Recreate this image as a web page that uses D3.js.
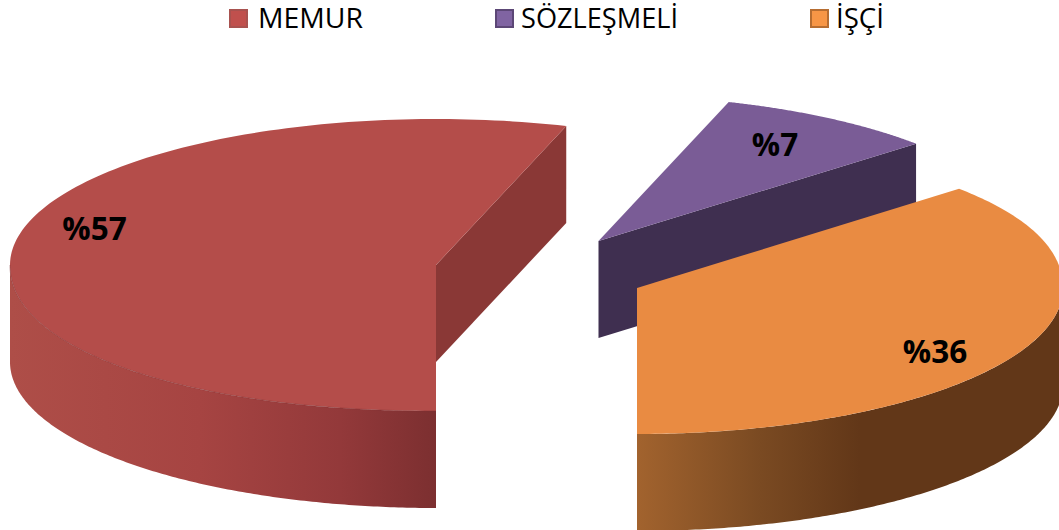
<!DOCTYPE html>
<html><head><meta charset="utf-8">
<script src="https://cdn.jsdelivr.net/npm/d3@7/dist/d3.min.js"></script>
<style>html,body{margin:0;padding:0;background:#fff;overflow:hidden}svg{display:block}</style>
</head><body><svg id="c" width="1059" height="530"></svg>
<script>
const categories = ["MEMUR", "SÖZLEŞMELİ", "İŞÇİ"];
const values = [57, 7, 36];
const labelPrefix = "%";

// Layout and styling
const W = 1059, H = 530, RX = 426, RY = 146, DEPTH = 97;
const centers = [[436,265],[598.5,241],[637,288]];
const topColors = ["#b44d4a","#7a5c96","#e98b42"];
const cutColors = ["#8a3836","#3f2f50",null];
const legendSwatch = [["#c0504d","#a8524f"],["#8064a2","#5c4776"],["#f79646","#b66d31"]];
const legendX = [229,495,810];
const legendTextX = [258,521,836];
const legendTextW = [105,157,48];
const labelOffsets = [[-341.5,-25],[176.5,-85],[298,75]];
// rim roundness, back and front of each slice (perspective of the 3D view)
const backN = [2,2,2.1], frontN = [2.1,2,2];
const rad = Math.PI/180;

const svg = d3.select("#c");
const defs = svg.append("defs");
function grad(id, stops){
  const g = defs.append("linearGradient").attr("id",id).attr("gradientUnits","userSpaceOnUse")
    .attr("x1",stops[0][0]).attr("x2",stops[stops.length-1][0]).attr("y1",0).attr("y2",0);
  const x0=stops[0][0], x1=stops[stops.length-1][0];
  stops.forEach(s=>g.append("stop").attr("offset",(s[0]-x0)/(x1-x0)).attr("stop-color",s[1]));
}
grad("sideR",[[10,"#ae4e48"],[200,"#a64442"],[340,"#93393a"],[436,"#7c2f30"]]);
grad("sideO",[[637,"#a2632e"],[760,"#7a4a22"],[860,"#623718"],[1059,"#623718"]]);

// Pie angles, then the view's perspective shift
const pie = d3.pie().sort(null).startAngle(Math.PI).endAngle(3*Math.PI);
const warp = d3.scaleLinear().domain([180,385.2,410.4,540]).range([180,377.8,408.2,540]);
const slices = pie(values).map((d,i)=>({i,
  a0:warp(d.startAngle/rad)*rad, a1:warp(d.endAngle/rad)*rad, c:centers[i]}));
function pt(c,a,n){
  const s=Math.sin(a), k=Math.cos(a), e=2/n;
  return [c[0]+RX*Math.sign(s)*Math.pow(Math.abs(s),e), c[1]-RY*Math.sign(k)*Math.pow(Math.abs(k),e)];
}
const rimN = (s,a)=> Math.cos(a)<0 ? frontN[s.i] : backN[s.i];
const line = d3.line();
const samples = (s,from,to,fn)=>d3.range(161).map(k=>{const a=from+(to-from)*k/160; return pt(s.c,a,fn(a));});

function wall(s,from,to){
  const top=samples(s,from,to,a=>rimN(s,a));
  const bot=samples(s,to,from,()=>2).map(p=>[p[0],p[1]+DEPTH]);
  return line(top.concat(bot))+"Z";
}
function drawSlice(s){
  const g = svg.append("g");
  if(cutColors[s.i]){
    const p = pt(s.c,s.a1,backN[s.i]);
    g.append("path").attr("d",line([s.c,p,[p[0],p[1]+DEPTH],[s.c[0],s.c[1]+DEPTH]])+"Z")
      .attr("fill",cutColors[s.i]);
  }
  if(s.i===0) g.append("path").attr("d",wall(s,Math.PI,1.5*Math.PI)).attr("fill","url(#sideR)");
  if(s.i===2) g.append("path").attr("d",wall(s,0.5*Math.PI,Math.PI)).attr("fill","url(#sideO)");
  g.append("path")
    .attr("d",line([s.c].concat(samples(s,s.a0,s.a1,a=>rimN(s,a))))+"Z")
    .attr("fill",topColors[s.i]);
  if(s.i===0) g.append("path")
    .attr("d",line(samples(s,Math.PI,1.5*Math.PI,a=>rimN(s,a))))
    .attr("fill","none").attr("stroke","#7c2f30").attr("stroke-opacity",0.45).attr("stroke-width",1);
}
[1,2,0].forEach(i=>drawSlice(slices[i]));

// value labels
svg.selectAll("text.v").data(values).join("text").attr("class","v")
  .attr("x",(d,i)=>centers[i][0]+labelOffsets[i][0])
  .attr("y",(d,i)=>centers[i][1]+labelOffsets[i][1])
  .attr("text-anchor","middle")
  .attr("font-family","'Open Sans',sans-serif").attr("font-weight",700).attr("font-size",31.5)
  .attr("fill","#000").text(d=>labelPrefix+d);

// legend
const leg = svg.selectAll("g.l").data(categories).join("g").attr("class","l");
leg.append("rect").attr("x",(d,i)=>legendX[i]+1).attr("y",10).attr("width",17).attr("height",17)
  .attr("fill",(d,i)=>legendSwatch[i][0]).attr("stroke",(d,i)=>legendSwatch[i][1]).attr("stroke-width",2);
leg.append("text").attr("x",(d,i)=>legendTextX[i]).attr("y",28)
  .attr("textLength",(d,i)=>legendTextW[i]).attr("lengthAdjust","spacingAndGlyphs")
  .attr("font-family","'Open Sans',sans-serif").attr("font-size",27).attr("fill","#000").text(d=>d);
</script></body></html>
